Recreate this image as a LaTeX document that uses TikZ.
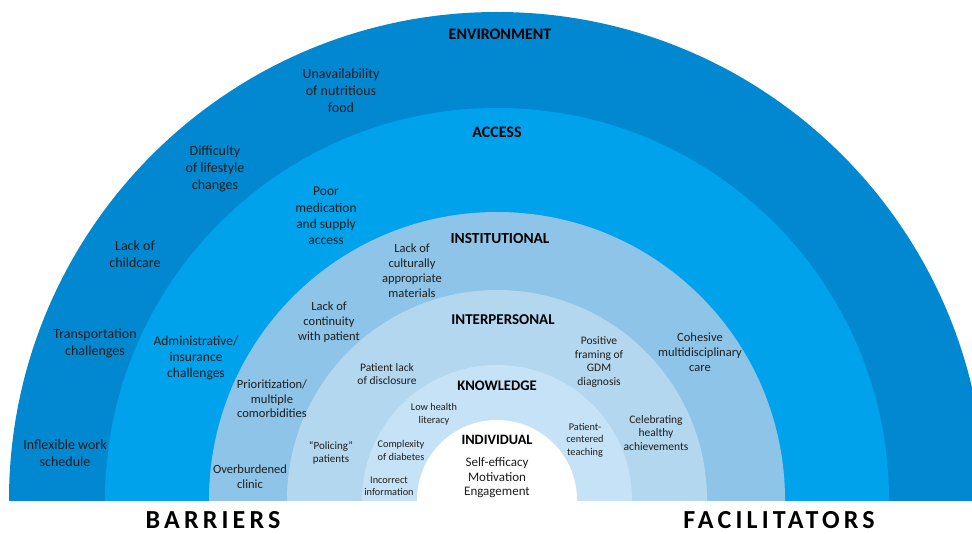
\documentclass[tikz,border=0pt]{standalone}
\usepackage{fontspec}
\setmainfont{Carlito}
\newfontfamily\widefont[LetterSpace=16]{Carlito}
\definecolor{envblue}{HTML}{0288D1}
\definecolor{accblue}{HTML}{00A2EC}
\definecolor{instblue}{HTML}{8EC4E8}
\definecolor{interblue}{HTML}{B3D7EF}
\definecolor{knowblue}{HTML}{C6E2F6}
\definecolor{txt}{HTML}{1E1E1E}

\begin{document}
\begin{tikzpicture}[x=1pt,y=-1pt,
  lbl/.style 2 args={align=center,text=txt,font=\fontsize{#1}{#2}\selectfont},
  ring/.style={text=black,font=\fontsize{#1}{18}\selectfont\bfseries},
  side/.style={text=black,inner sep=0pt,font=\fontsize{26}{30}\widefont\bfseries}]

  \useasboundingbox (0,0) rectangle (972,534);

  % Ringoj (duoncirkloj)
  \begin{scope}
    \clip (0,0) rectangle (972,500);
    \fill[envblue] (497,500) circle (488);
    \fill[accblue] (497,500) circle (392);
    \fill[instblue] (497,500) circle (288);
    \fill[interblue] (497,500) circle (210);
    \fill[knowblue] (497,500) circle (135);
    \fill[white] (497,500) circle (80);
  \end{scope}

  % Titoloj de la ringoj
  \node[ring=16] (environment) at (500,34) {ENVIRONMENT};
  \node[ring=16] (access) at (497,132) {ACCESS};
  \node[ring=15.4] (institutional) at (500,239) {INSTITUTIONAL};
  \node[ring=15] (interpersonal) at (503,320) {INTERPERSONAL};
  \node[ring=14.6] (knowledge) at (497,386) {KNOWLEDGE};
  \node[ring=14.3] (individual) at (497,440) {INDIVIDUAL};

  % Environment
  \node[lbl={14}{17}] (nutritious) at (341,91) {Unavailability\\of nutritious\\food};
  \node[lbl={14}{17}] (lifestyle) at (215,169) {Difficulty\\of lifestyle\\changes};
  \node[lbl={14}{17}] (childcare) at (135,254) {Lack of\\childcare};
  \node[lbl={14}{17}] (transport) at (95,343) {Transportation\\challenges};
  \node[lbl={14}{17}] (workschedule) at (65,453) {Inflexible work\\schedule};

  % Access
  \node[lbl={13.5}{16.3}] (medication) at (326,216) {Poor\\medication\\and supply\\access};
  \node[lbl={13.5}{16.3}] (insurance) at (196,358) {Administrative/\\insurance\\challenges};

  % Institutional
  \node[lbl={12.5}{15}] (materials) at (412,271) {Lack of\\culturally\\appropriate\\materials};
  \node[lbl={12.5}{15}] (continuity) at (329,322) {Lack of\\continuity\\with patient};
  \node[lbl={12.5}{14.6}] (comorbid) at (272,399) {Prioritization/\\multiple\\comorbidities};
  \node[lbl={12.5}{15}] (clinic) at (250,477) {Overburdened\\clinic};
  \node[lbl={12.5}{15}] (cohesive) at (700,352) {Cohesive\\multidisciplinary\\care};

  % Interpersonal
  \node[lbl={11.5}{13.7}] (framing) at (599,362) {Positive\\framing of\\GDM\\diagnosis};
  \node[lbl={11.5}{13.7}] (disclosure) at (387,374) {Patient lack\\of disclosure};
  \node[lbl={11}{13.5}] (policing) at (331,453) {``Policing''\\patients};
  \node[lbl={11.5}{13.7}] (celebrating) at (656,433) {Celebrating\\healthy\\achievements};

  % Knowledge
  \node[lbl={10.3}{13}] (literacy) at (434,414) {Low health\\literacy};
  \node[lbl={10.3}{13}] (complexity) at (401,450) {Complexity\\of diabetes};
  \node[lbl={10.3}{11.5}] (incorrect) at (389,486) {Incorrect\\information};
  \node[lbl={10.3}{12.5}] (teaching) at (585,440) {Patient-\\centered\\teaching};

  % Individual
  \node[lbl={13}{14.5}] (selfeff) at (497,478) {Self-efficacy\\Motivation\\Engagement};

  % Barrieroj kaj faciligantoj
  \node[side] (barriers) at (213,520.5) {BARRIERS};
  \node[side] (facilitators) at (779,520.5) {FACILITATORS};

\end{tikzpicture}
\end{document}
